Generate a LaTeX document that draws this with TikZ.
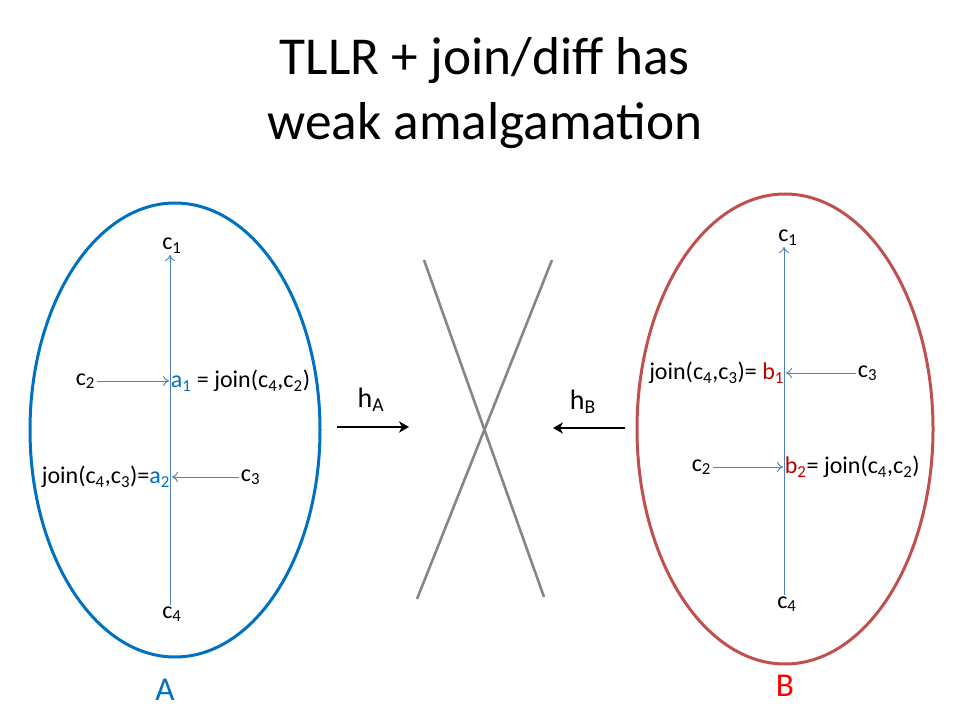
\documentclass[tikz,border=0pt]{standalone}
\usepackage{fontspec}
\setmainfont{Carlito}
\usetikzlibrary{arrows.meta}
\definecolor{ablue}{HTML}{0070C0}
\definecolor{bred}{HTML}{C0504D}
\definecolor{arrblue}{HTML}{4F81BD}
\definecolor{dred}{HTML}{C00000}
\definecolor{lred}{HTML}{FF0000}
\newcommand\sbs[1]{\textsubscript{#1}}
\tikzset{
  lab/.style={font=\fontsize{18}{22}\selectfont, inner sep=1.2pt},
  thin arr/.style={draw=arrblue, line width=0.7pt, -{To[length=4.5pt,width=7.5pt]}},
  cross/.style={draw=gray!95, line width=1.95pt},
  harr/.style={draw=black, line width=2.1pt, -{Stealth[length=7.5pt,width=8.5pt,inset=2.2pt]}},
  ell/.style={line width=2.25pt},
}
\begin{document}
\begin{tikzpicture}[x=0.75pt,y=-0.75pt]
\useasboundingbox (0,0) rectangle (960,720);
% title
\node (title) at (485,93) [align=center, font=\fontsize{40}{48.75}\selectfont] {TLLR + join/diff has\\weak amalgamation};
% ellipses
\draw[ablue, ell] (175,430) ellipse [x radius=145, y radius=227];
\draw[bred, ell] (785,429) ellipse [x radius=148, y radius=235];
\node (A) at (165,690) [font=\fontsize{25}{30}\selectfont, text=ablue] {A};
\node (B) at (785,686) [font=\fontsize{25}{30}\selectfont, text=lred] {B};
% left diagram
\node (Lc1) [lab, anchor=south] at (172,255) {c\sbs{1}};
\node (Lc4) [lab, anchor=north] at (172,605) {c\sbs{4}};
\draw[thin arr] (170,605) -- (170,255);
\node (Lc2) [lab, anchor=east] at (97,381) {c\sbs{2}};
\node (La1) [lab, anchor=west] at (169,381) {\textcolor{ablue}{a\sbs{1}} = join(c\sbs{4},c\sbs{2})};
\draw[thin arr] (Lc2.east) -- (La1.west);
\node (Lc3) [lab, anchor=west] at (239,477) {c\sbs{3}};
\node (La2) [lab, anchor=east] at (172,477) {join(c\sbs{4},c\sbs{3})=\textcolor{ablue}{a\sbs{2}}};
\draw[thin arr] (Lc3.west) -- (La2.east);
% right diagram
\node (Rc1) [lab, anchor=south] at (788,247) {c\sbs{1}};
\node (Rc4) [lab, anchor=north] at (787,595) {c\sbs{4}};
\draw[thin arr] (784,595) -- (784,247);
\node (Rc3) [lab, anchor=west] at (856,373) {c\sbs{3}};
\node (Rb1) [lab, anchor=east] at (786,373) {join(c\sbs{4},c\sbs{3})= \textcolor{dred}{b\sbs{1}}};
\draw[thin arr] (Rc3.west) -- (Rb1.east);
\node (Rc2) [lab, anchor=east] at (713,467) {c\sbs{2}};
\node (Rb2) [lab, anchor=west] at (783,467) {\textcolor{dred}{b\sbs{2}}= join(c\sbs{4},c\sbs{2})};
\draw[thin arr] (Rc2.east) -- (Rb2.west);
% middle cross
\coordinate (x1a) at (424,260); \coordinate (x1b) at (544,597);
\coordinate (x2a) at (552,260); \coordinate (x2b) at (417,599);
\draw[cross] (x1a) -- (x1b);
\draw[cross] (x2a) -- (x2b);
% h arrows
\coordinate (hAs) at (337,427); \coordinate (hAe) at (409,427);
\coordinate (hBs) at (625,428); \coordinate (hBe) at (553,428);
\draw[harr] (hAs) -- (hAe);
\draw[harr] (hBs) -- (hBe);
\node (hA) [font=\fontsize{21}{25}\selectfont] at (371,400) {h\sbs{A}};
\node (hB) [font=\fontsize{21}{25}\selectfont] at (583,402) {h\sbs{B}};
\end{tikzpicture}
\end{document}
